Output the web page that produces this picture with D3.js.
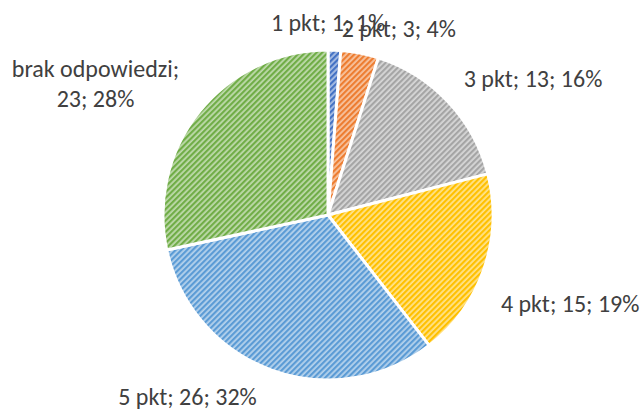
<!DOCTYPE html>
<html>
<head>
<meta charset="utf-8">
<script src="https://cdn.jsdelivr.net/npm/d3@7"></script>
<style>
  body { margin: 0; background: #fff; }
  svg { display: block; }
  .label { font-family: Carlito, Calibri, "Liberation Sans", sans-serif; font-size: 24px; fill: #404040; }
</style>
</head>
<body>
<svg width="644" height="411"></svg>
<script>
// Data
const categories = ["1 pkt", "2 pkt", "3 pkt", "4 pkt", "5 pkt", "brak odpowiedzi"];
const counts = [1, 3, 13, 15, 26, 23];
const percents = ["1%", "4%", "16%", "19%", "32%", "28%"];
const colors = ["#4472C4", "#ED7D31", "#A5A5A5", "#FFC000", "#5B9BD5", "#70AD47"];

// Label nudges relative to the outer label ring (layout only)
const labelNudge = [[-8, 14], [31, 16], [55, 5], [47, 22], [-70, -12], [-72, -2]];

const svg = d3.select("svg");
const cx = 328, cy = 215, radius = 165;

// Hatch patterns: upward diagonal stripes on a pale tint of each colour
const defs = svg.append("defs");
colors.forEach((c, i) => {
  const p = defs.append("pattern")
    .attr("id", `hatch${i}`)
    .attr("patternUnits", "userSpaceOnUse")
    .attr("width", 4)
    .attr("height", 4)
    .attr("patternTransform", "rotate(45)");
  p.append("rect")
    .attr("width", 4).attr("height", 4)
    .attr("fill", d3.interpolateRgb(c, "#fff")(0.55));
  p.append("rect")
    .attr("width", 2.2).attr("height", 4)
    .attr("fill", c);
});

const data = categories.map((name, i) => ({ name, value: counts[i], pct: percents[i], i }));

const pie = d3.pie().value(d => d.value).sort(null);
const arcs = pie(data);

const arc = d3.arc().innerRadius(0).outerRadius(radius);
const labelArc = d3.arc().innerRadius(radius * 1.25).outerRadius(radius * 1.25);

const g = svg.append("g").attr("transform", `translate(${cx},${cy})`);

g.selectAll("path.slice")
  .data(arcs)
  .join("path")
  .attr("class", "slice")
  .attr("d", arc)
  .attr("fill", d => `url(#hatch${d.data.i})`)
  .attr("stroke", "#fff")
  .attr("stroke-width", 3)
  .attr("stroke-linejoin", "round");

// Labels: "name; count; percent"
const labels = g.selectAll("text.label")
  .data(arcs)
  .join("text")
  .attr("class", "label")
  .attr("text-anchor", "middle")
  .attr("transform", d => {
    const [x, y] = labelArc.centroid(d);
    const [nx, ny] = labelNudge[d.data.i];
    return `translate(${x + nx},${y + ny})`;
  });

labels.each(function(d) {
  const t = d3.select(this);
  if (d.data.name === "brak odpowiedzi") {
    t.append("tspan").attr("x", 0).attr("dy", "-0.28em").text(`${d.data.name};`);
    t.append("tspan").attr("x", 0).attr("dy", "1.25em").text(`${d.data.value}; ${d.data.pct}`);
  } else {
    t.append("tspan").attr("x", 0).attr("dy", "0.35em").text(`${d.data.name}; ${d.data.value}; ${d.data.pct}`);
  }
});
</script>
</body>
</html>
